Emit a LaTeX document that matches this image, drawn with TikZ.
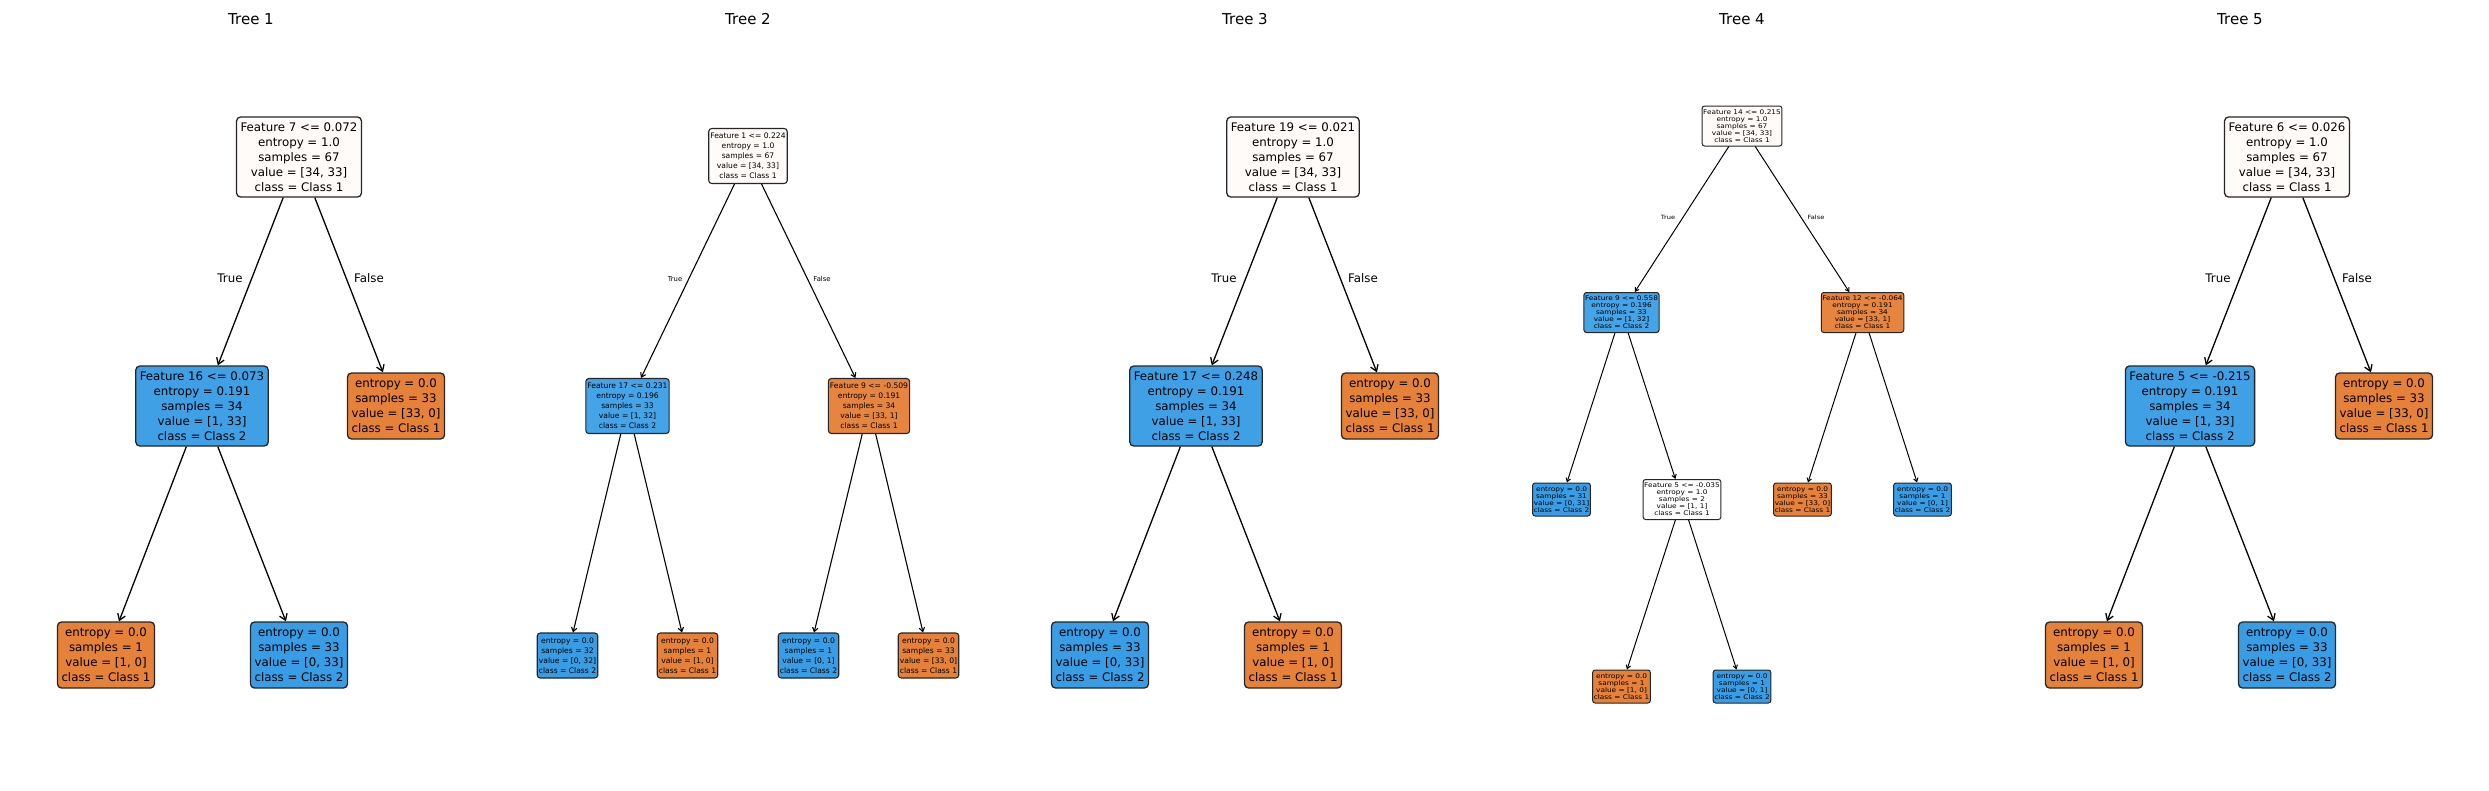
\documentclass[tikz,border=0pt]{standalone}
\usepackage{fontspec}
\setmainfont{DejaVu Sans}
\newfontfamily\tinyfam[FakeStretch=1.15]{DejaVu Sans}
\usetikzlibrary{arrows.meta}
\definecolor{cRoot}{HTML}{FEFBF9}
\definecolor{cOr}{HTML}{E58139}
\definecolor{cBl}{HTML}{399DE5}
\definecolor{cBlA}{HTML}{3FA0E6}
\definecolor{cBlB}{HTML}{45A3E7}
\definecolor{cOrA}{HTML}{E6853F}
\tikzset{
  tbox/.style={draw=black!85, line width=1.3pt, align=center, inner ysep=0pt, text=black},
  bA/.style={tbox, font=\fontsize{11.8}{15}\selectfont, inner xsep=4pt, rounded corners=4pt},
  intA/.style={bA, minimum height=80pt},
  leafA/.style={bA, minimum height=66pt},
  bB/.style={tbox, font=\fontsize{7.6}{10}\selectfont, inner xsep=1.6pt, rounded corners=3pt, line width=1.1pt},
  intB/.style={bB, minimum height=55pt},
  leafB/.style={bB, minimum height=45pt},
  bD/.style={tbox, font=\tinyfam\fontsize{6.4}{7}\selectfont, inner xsep=1.1pt, rounded corners=2.5pt, line width=1pt},
  intD/.style={bD, minimum height=40pt},
  leafD/.style={bD, minimum height=33pt},
  eA/.style={-{Straight Barb[length=6pt,width=8pt]}, line width=1.3pt, black},
  eB/.style={-{Straight Barb[length=4pt,width=5.5pt]}, line width=1.1pt, black},
  eD/.style={-{Straight Barb[length=3.5pt,width=4.5pt]}, line width=1pt, black},
  lblA/.style={font=\fontsize{11.8}{15}\selectfont, inner sep=0pt},
  lblB/.style={font=\fontsize{6.8}{8}\selectfont, inner sep=0pt},
  lblD/.style={font=\tinyfam\fontsize{5.8}{7}\selectfont, inner sep=0pt},
  ttl/.style={font=\fontsize{15}{18}\selectfont, anchor=base, inner sep=0pt}
}
\begin{document}
\begin{tikzpicture}[x=1pt,y=-1pt]
\useasboundingbox[fill=white] (0,0) rectangle (2489,790);

% titles
\node[ttl] (t1) at (251,24) {Tree 1};
\node[ttl] (t2) at (748,24) {Tree 2};
\node[ttl] (t3) at (1245,24) {Tree 3};
\node[ttl] (t4) at (1742,24) {Tree 4};
\node[ttl] (t5) at (2240,24) {Tree 5};

% ---------- Tree 1 ----------
\node[intA, fill=cRoot] (r1) at (299,157) {Feature 7 <= 0.072\\entropy = 1.0\\samples = 67\\value = [34, 33]\\class = Class 1};
\node[intA, fill=cBlA] (a1) at (202,406) {Feature 16 <= 0.073\\entropy = 0.191\\samples = 34\\value = [1, 33]\\class = Class 2};
\node[leafA, fill=cOr] (b1) at (396,406) {entropy = 0.0\\samples = 33\\value = [33, 0]\\class = Class 1};
\node[leafA, fill=cOr] (c1) at (106,655) {entropy = 0.0\\samples = 1\\value = [1, 0]\\class = Class 1};
\node[leafA, fill=cBl] (d1) at (299,655) {entropy = 0.0\\samples = 33\\value = [0, 33]\\class = Class 2};
\draw[eA] (r1) -- (a1);
\draw[eA] (r1) -- (b1);
\draw[eA] (a1) -- (c1);
\draw[eA] (a1) -- (d1);
\node[lblA] (tr1) at (230,278) {True};
\node[lblA] (fa1) at (369,278) {False};

% ---------- Tree 2 ----------
\node[intB, fill=cRoot] (r2) at (748,156) {Feature 1 <= 0.224\\entropy = 1.0\\samples = 67\\value = [34, 33]\\class = Class 1};
\node[intB, fill=cBlB] (a2) at (627.5,406) {Feature 17 <= 0.231\\entropy = 0.196\\samples = 33\\value = [1, 32]\\class = Class 2};
\node[intB, fill=cOrA] (b2) at (869,406) {Feature 9 <= -0.509\\entropy = 0.191\\samples = 34\\value = [33, 1]\\class = Class 1};
\node[leafB, fill=cBl] (c2) at (567.5,655.5) {entropy = 0.0\\samples = 32\\value = [0, 32]\\class = Class 2};
\node[leafB, fill=cOr] (d2) at (687.5,655.5) {entropy = 0.0\\samples = 1\\value = [1, 0]\\class = Class 1};
\node[leafB, fill=cBl] (e2) at (808.5,655.5) {entropy = 0.0\\samples = 1\\value = [0, 1]\\class = Class 2};
\node[leafB, fill=cOr] (f2) at (928.5,655.5) {entropy = 0.0\\samples = 33\\value = [33, 0]\\class = Class 1};
\draw[eB] (r2) -- (a2);
\draw[eB] (r2) -- (b2);
\draw[eB] (a2) -- (c2);
\draw[eB] (a2) -- (d2);
\draw[eB] (b2) -- (e2);
\draw[eB] (b2) -- (f2);
\node[lblB] (tr2) at (675,279) {True};
\node[lblB] (fa2) at (822,279) {False};

% ---------- Tree 3 ----------
\node[intA, fill=cRoot] (r3) at (1293,157) {Feature 19 <= 0.021\\entropy = 1.0\\samples = 67\\value = [34, 33]\\class = Class 1};
\node[intA, fill=cBlA] (a3) at (1196,406) {Feature 17 <= 0.248\\entropy = 0.191\\samples = 34\\value = [1, 33]\\class = Class 2};
\node[leafA, fill=cOr] (b3) at (1390,406) {entropy = 0.0\\samples = 33\\value = [33, 0]\\class = Class 1};
\node[leafA, fill=cBl] (c3) at (1100,655) {entropy = 0.0\\samples = 33\\value = [0, 33]\\class = Class 2};
\node[leafA, fill=cOr] (d3) at (1293,655) {entropy = 0.0\\samples = 1\\value = [1, 0]\\class = Class 1};
\draw[eA] (r3) -- (a3);
\draw[eA] (r3) -- (b3);
\draw[eA] (a3) -- (c3);
\draw[eA] (a3) -- (d3);
\node[lblA] (tr3) at (1224,278) {True};
\node[lblA] (fa3) at (1363,278) {False};

% ---------- Tree 4 ----------
\node[intD, fill=cRoot] (r4) at (1742,126) {Feature 14 <= 0.215\\entropy = 1.0\\samples = 67\\value = [34, 33]\\class = Class 1};
\node[intD, fill=cBlB] (a4) at (1621.5,312.5) {Feature 9 <= 0.558\\entropy = 0.196\\samples = 33\\value = [1, 32]\\class = Class 2};
\node[intD, fill=cOrA] (b4) at (1862.5,312.5) {Feature 12 <= -0.064\\entropy = 0.191\\samples = 34\\value = [33, 1]\\class = Class 1};
\node[leafD, fill=cBl] (c4) at (1561.5,499.5) {entropy = 0.0\\samples = 31\\value = [0, 31]\\class = Class 2};
\node[intD, fill=white] (d4) at (1682,499.5) {Feature 5 <= -0.035\\entropy = 1.0\\samples = 2\\value = [1, 1]\\class = Class 1};
\node[leafD, fill=cOr] (e4) at (1802.5,499.5) {entropy = 0.0\\samples = 33\\value = [33, 0]\\class = Class 1};
\node[leafD, fill=cBl] (f4) at (1922.5,499.5) {entropy = 0.0\\samples = 1\\value = [0, 1]\\class = Class 2};
\node[leafD, fill=cOr] (g4) at (1621.5,686.5) {entropy = 0.0\\samples = 1\\value = [1, 0]\\class = Class 1};
\node[leafD, fill=cBl] (h4) at (1742,686.5) {entropy = 0.0\\samples = 1\\value = [0, 1]\\class = Class 2};
\draw[eD] (r4) -- (a4);
\draw[eD] (r4) -- (b4);
\draw[eD] (a4) -- (c4);
\draw[eD] (a4) -- (d4);
\draw[eD] (b4) -- (e4);
\draw[eD] (b4) -- (f4);
\draw[eD] (d4) -- (g4);
\draw[eD] (d4) -- (h4);
\node[lblD] (tr4) at (1668,217) {True};
\node[lblD] (fa4) at (1816,217) {False};

% ---------- Tree 5 ----------
\node[intA, fill=cRoot] (r5) at (2287,157) {Feature 6 <= 0.026\\entropy = 1.0\\samples = 67\\value = [34, 33]\\class = Class 1};
\node[intA, fill=cBlA] (a5) at (2190,406) {Feature 5 <= -0.215\\entropy = 0.191\\samples = 34\\value = [1, 33]\\class = Class 2};
\node[leafA, fill=cOr] (b5) at (2384,406) {entropy = 0.0\\samples = 33\\value = [33, 0]\\class = Class 1};
\node[leafA, fill=cOr] (c5) at (2094,655) {entropy = 0.0\\samples = 1\\value = [1, 0]\\class = Class 1};
\node[leafA, fill=cBl] (d5) at (2287,655) {entropy = 0.0\\samples = 33\\value = [0, 33]\\class = Class 2};
\draw[eA] (r5) -- (a5);
\draw[eA] (r5) -- (b5);
\draw[eA] (a5) -- (c5);
\draw[eA] (a5) -- (d5);
\node[lblA] (tr5) at (2218,278) {True};
\node[lblA] (fa5) at (2357,278) {False};
\end{tikzpicture}
\end{document}
